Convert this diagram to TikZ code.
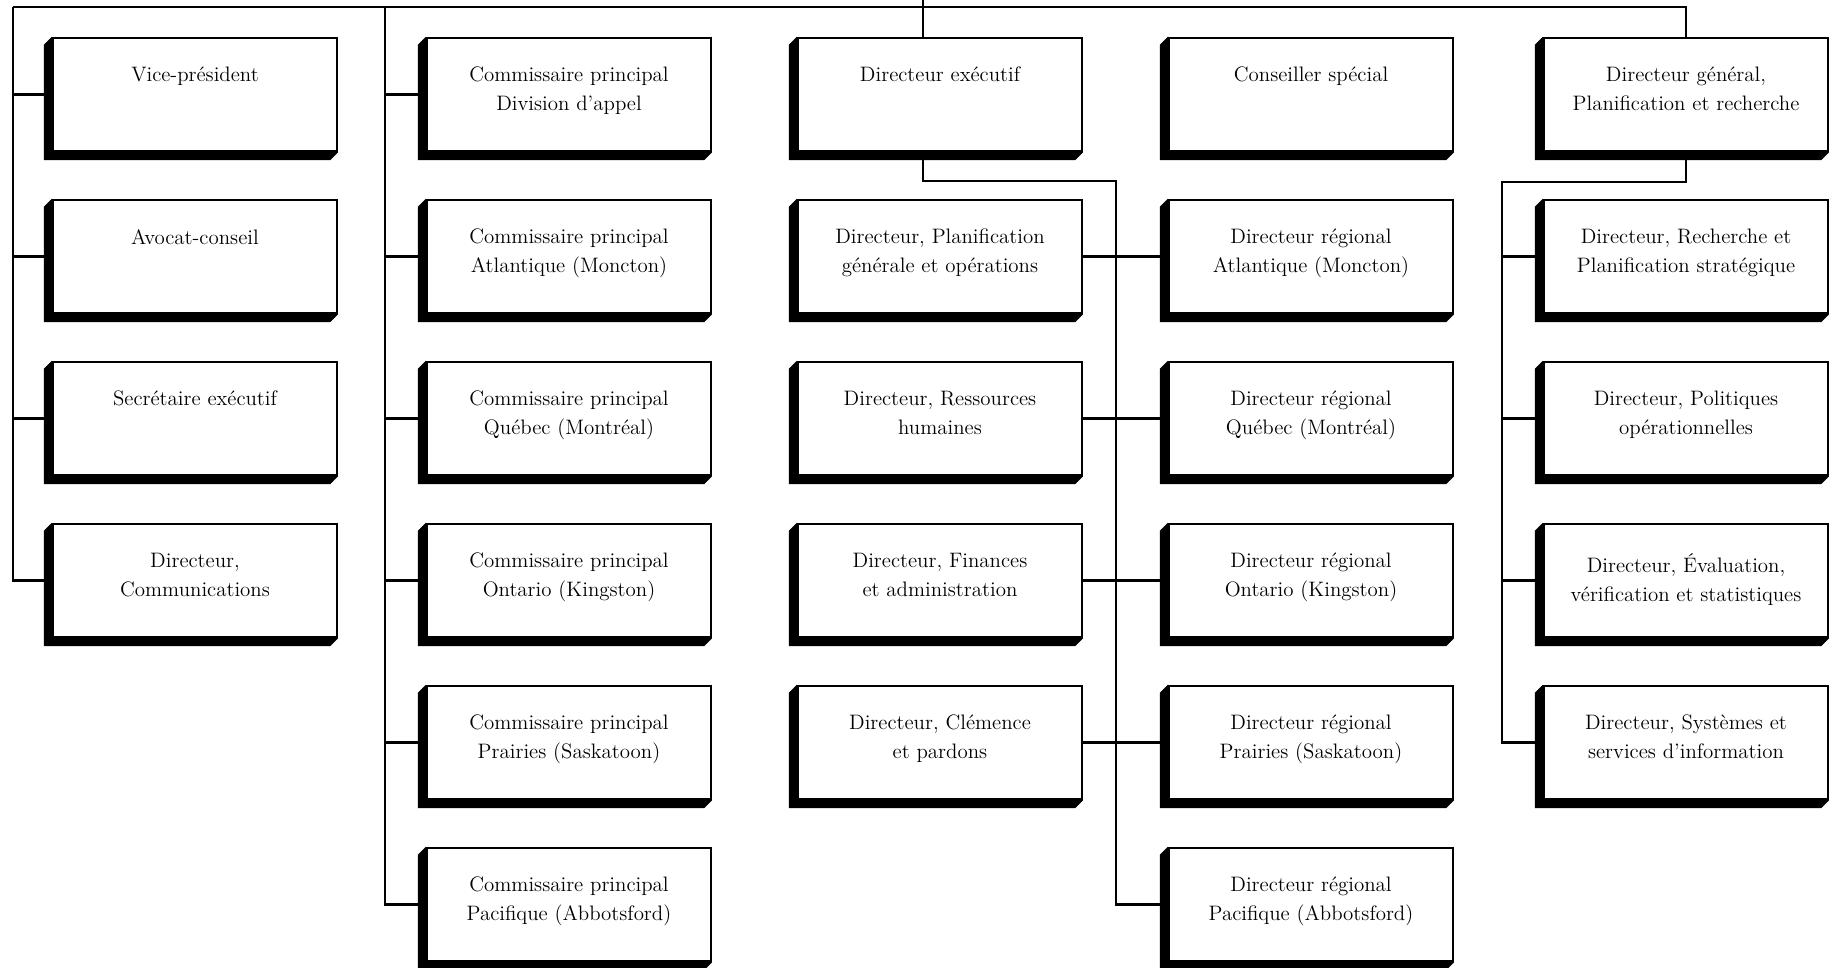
\documentclass[tikz,border=0pt]{standalone}
\usetikzlibrary{backgrounds}

\begin{document}
\begin{tikzpicture}[
  unit/.style={draw=black, fill=white, line width=1.3pt,
               minimum width=5.68cm, minimum height=2.26cm, inner sep=0pt},
  txt/.style={align=center, inner sep=0pt,
              font=\fontsize{11.9}{16.5}\selectfont},
  link/.style={draw=black, line width=1.6pt}
]
\useasboundingbox (0,0) rectangle (36.78,19.34);

%% boxes with their dark bevel on the left and bottom
\foreach \n/\x/\y/\t in {
  vp/3.90/17.45/{Vice-président},
  avocat/3.90/14.21/{Avocat-conseil},
  secr/3.90/10.97/{Secrétaire exécutif},
  comm/3.90/7.73/{Directeur,\\Communications},
  cpappel/11.38/17.45/{Commissaire principal\\Division d'appel},
  cpatl/11.38/14.21/{Commissaire principal\\Atlantique (Moncton)},
  cpqc/11.38/10.97/{Commissaire principal\\Québec (Montréal)},
  cpont/11.38/7.73/{Commissaire principal\\Ontario (Kingston)},
  cppra/11.38/4.49/{Commissaire principal\\Prairies (Saskatoon)},
  cppac/11.38/1.25/{Commissaire principal\\Pacifique (Abbotsford)},
  direx/18.80/17.45/{Directeur exécutif},
  dplan/18.80/14.21/{Directeur, Planification\\générale et opérations},
  drh/18.80/10.97/{Directeur, Ressources\\humaines},
  dfin/18.80/7.73/{Directeur, Finances\\et administration},
  dclem/18.80/4.49/{Directeur, Clémence\\et pardons},
  cons/26.22/17.45/{Conseiller spécial},
  dratl/26.22/14.21/{Directeur régional\\Atlantique (Moncton)},
  drqc/26.22/10.97/{Directeur régional\\Québec (Montréal)},
  dront/26.22/7.73/{Directeur régional\\Ontario (Kingston)},
  drpra/26.22/4.49/{Directeur régional\\Prairies (Saskatoon)},
  drpac/26.22/1.25/{Directeur régional\\Pacifique (Abbotsford)},
  dgpr/33.72/17.45/{Directeur général,\\Planification et recherche},
  drech/33.72/14.21/{Directeur, Recherche et\\Planification stratégique},
  dpol/33.72/10.97/{Directeur, Politiques\\opérationnelles},
  deval/33.72/7.73/{Directeur, Évaluation,\\vérification et statistiques},
  dsys/33.72/4.49/{Directeur, Systèmes et\\services d'information}}
{
  \node[unit] (\n) at (\x,\y) {};
  \fill[black] (\n.north west) -- ++(-0.16,-0.16)
    |- ([shift={(-0.16,-0.16)}]\n.south east) -- (\n.south east)
    -- (\n.south west) -- cycle;
  \node[txt, anchor=north] (\n-t) at ([yshift=-0.6cm]\n.north) {\t};
}

\coordinate (topL) at (0.26,19.2);
\coordinate (c2top) at (7.70,19.2);
\coordinate (root) at (18.46,19.34);
\coordinate (c4bus) at (22.32,15.72);
\coordinate (c5bus) at (30.04,15.70);

\begin{scope}[on background layer]
%% top bar and first column
\draw[link] (topL) -| (dgpr.north);
\draw[link] (root) -- (root |- direx.north);
\draw[link] (topL) |- (comm.west);
\foreach \n in {vp,avocat,secr}
  \draw[link] (\n.west) -- (\n.west -| topL);

%% commissaires
\draw[link] (c2top) |- (cppac.west);
\foreach \n in {cpappel,cpatl,cpqc,cpont,cppra}
  \draw[link] (\n.west) -- (\n.west -| c2top);

%% directeur executif and the regions
\draw[link] (root |- direx.south) |- (c4bus) |- (drpac.west);
\foreach \a/\b in {dplan/dratl,drh/drqc,dfin/dront,dclem/drpra}
  \draw[link] (\a.east) -- (\b.west);

%% planification et recherche
\draw[link] (dgpr.south) |- (c5bus) |- (dsys.west);
\foreach \n in {drech,dpol,deval}
  \draw[link] (\n.west) -- (\n.west -| c5bus);
\end{scope}

\end{tikzpicture}
\end{document}
